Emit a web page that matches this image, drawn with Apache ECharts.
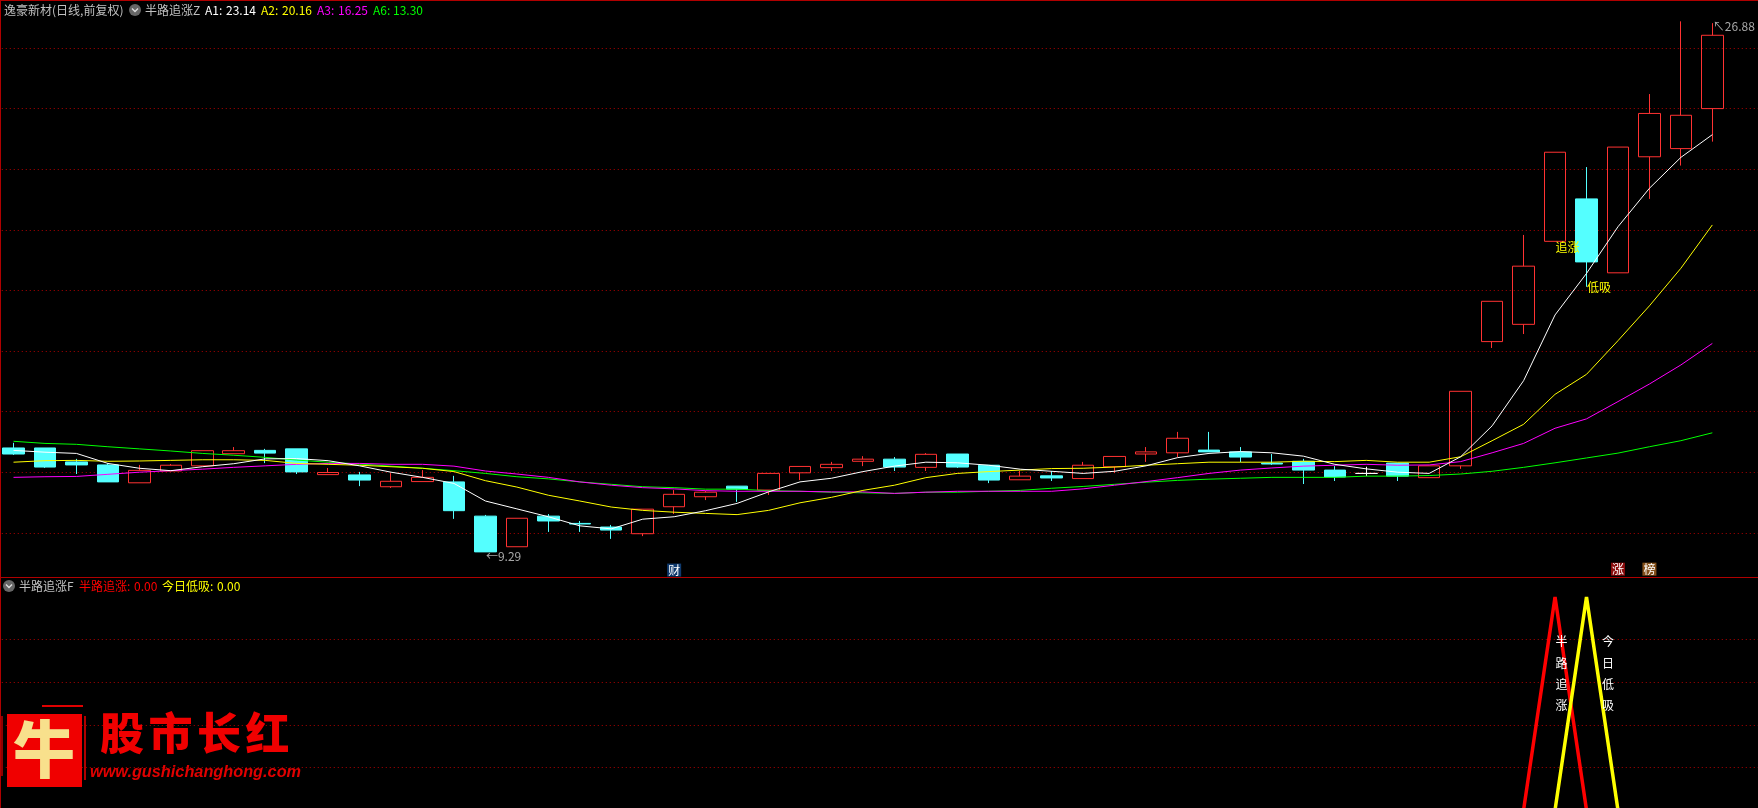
<!DOCTYPE html>
<html>
<head>
<meta charset="utf-8">
<style>html,body{margin:0;padding:0;background:#000}#c{width:1758px;height:808px}</style>
<script src="https://cdn.jsdelivr.net/npm/echarts@6/dist/echarts.min.js"></script>
</head>
<body>
<div id="c"></div>
<script>
// [open, close, low, high]
const candles = [
[12.80,12.60,12.57,12.97],[12.80,12.17,12.14,12.80],[12.34,12.24,11.94,12.44],[12.24,11.68,11.68,12.30],[11.65,12.06,11.65,12.24],
[12.04,12.23,12.04,12.27],[12.21,12.71,12.21,12.71],[12.61,12.71,12.61,12.83],[12.72,12.63,12.30,12.77],[12.77,12.01,11.94,12.77],
[11.92,11.99,11.92,12.14],[11.91,11.74,11.54,12.01],[11.52,11.70,11.48,11.97],[11.69,11.83,11.69,12.07],[11.68,10.73,10.46,11.88],
[10.55,9.37,9.37,10.59],[9.54,10.48,9.54,10.48],[10.55,10.39,10.03,10.62],[10.31,10.29,10.03,10.39],[10.19,10.09,9.80,10.26],
[9.97,10.78,9.89,10.78],[10.86,11.27,10.62,11.41],[11.19,11.34,11.08,11.39],[11.54,11.44,11.02,11.54],[11.41,11.96,11.25,11.96],
[11.98,12.19,11.74,12.19],[12.15,12.26,12.04,12.34],[12.36,12.43,12.20,12.53],[12.43,12.17,12.04,12.50],[12.16,12.59,12.04,12.63],
[12.60,12.17,12.14,12.60],[12.23,11.74,11.64,12.23],[11.75,11.87,11.75,12.04],[11.88,11.81,11.71,12.04],[11.79,12.23,11.79,12.34],
[12.18,12.52,11.97,12.52],[12.60,12.67,12.34,12.83],[12.64,13.12,12.50,13.33],[12.73,12.67,12.67,13.33],[12.67,12.50,12.33,12.83],
[12.30,12.27,12.24,12.60],[12.36,12.07,11.61,12.44],[12.07,11.84,11.71,12.20],[11.96,11.96,11.87,12.18],[12.30,11.87,11.71,12.30],
[11.82,12.21,11.82,12.21],[12.21,14.67,12.11,14.67],[16.31,17.64,16.10,17.64],[16.88,18.80,16.56,19.83],[19.62,22.56,19.62,22.56],
[21.02,18.94,18.12,22.07],[18.58,22.73,18.58,22.73],[22.41,23.84,21.02,24.48],[22.68,23.78,22.12,26.88],[24.00,26.42,22.91,26.82]
];
const a1 = [12.72,12.66,12.62,12.29,12.13,12.05,12.18,12.28,12.44,12.45,12.38,12.21,12.00,11.83,11.63,11.05,10.79,10.53,10.23,10.13,10.45,10.53,10.73,10.97,11.35,11.68,11.80,12.02,12.20,12.33,12.31,12.23,12.10,12.03,11.96,12.03,12.21,12.48,12.62,12.68,12.64,12.53,12.26,12.11,12.00,11.96,12.51,13.53,15.02,17.19,18.56,20.10,21.37,22.39,23.14];
const a2 = [12.33,12.38,12.39,12.36,12.37,12.39,12.41,12.41,12.39,12.29,12.26,12.23,12.18,12.13,12.02,11.72,11.51,11.24,11.05,10.85,10.74,10.68,10.64,10.60,10.74,10.99,11.17,11.40,11.57,11.82,11.96,12.02,12.07,12.12,12.13,12.17,12.23,12.28,12.33,12.33,12.33,12.36,12.35,12.39,12.33,12.33,12.51,13.04,13.58,14.57,15.23,16.34,17.49,18.73,20.16];
const a3 = [11.83,11.85,11.86,11.93,12.00,12.05,12.10,12.16,12.21,12.26,12.29,12.29,12.26,12.26,12.20,12.04,11.94,11.83,11.68,11.57,11.49,11.45,11.39,11.37,11.37,11.37,11.35,11.35,11.30,11.34,11.37,11.37,11.37,11.37,11.45,11.57,11.69,11.82,11.96,12.07,12.14,12.20,12.23,12.26,12.23,12.24,12.35,12.64,12.95,13.45,13.76,14.33,14.91,15.54,16.25];
const a6 = [13.02,12.95,12.92,12.84,12.77,12.70,12.62,12.56,12.49,12.40,12.33,12.27,12.20,12.13,12.05,11.96,11.85,11.78,11.68,11.60,11.52,11.49,11.44,11.44,11.39,11.37,11.34,11.32,11.30,11.34,11.34,11.37,11.40,11.47,11.53,11.60,11.67,11.73,11.77,11.80,11.83,11.83,11.83,11.87,11.87,11.89,11.94,12.03,12.16,12.31,12.47,12.63,12.84,13.04,13.30];
const chase = [0,0,0,0,0,0,0,0,0,0,0,0,0,0,0,0,0,0,0,0,0,0,0,0,0,0,0,0,0,0,0,0,0,0,0,0,0,0,0,0,0,0,0,0,0,0,0,0,0,1,0,0,0,0,0];
const dip   = [0,0,0,0,0,0,0,0,0,0,0,0,0,0,0,0,0,0,0,0,0,0,0,0,0,0,0,0,0,0,0,0,0,0,0,0,0,0,0,0,0,0,0,0,0,0,0,0,0,0,1,0,0,0,0];
const categories = candles.map((_, i) => String(i + 1)).concat(['']);

const CJK = '"Noto Sans CJK SC","Noto Sans",sans-serif';
const GRID_RED = '#b00000';
const BAND = 31.46, LEFT = -2.23;
const W = BAND * categories.length;

function anno(coord, text, color, extra) {
  return Object.assign({
    coord, symbol: 'circle', symbolSize: 1, itemStyle: { color: 'rgba(0,0,0,0)' },
    label: Object.assign({ show: true, formatter: text, color, fontFamily: CJK, fontSize: 12, position: 'right', distance: 0 }, extra || {})
  });
}
function badge(idx, val, text, bg) {
  return anno([idx, val], text, '#fff', {
    position: 'inside', backgroundColor: bg, padding: [1, 1, 0, 1], lineHeight: 12, fontSize: 12
  });
}

const topAnnotations = [
  anno([49, 19.43], '追涨', '#ffff00'),
  anno([50, 18.10], '低吸', '#ffff00'),
  anno([15, 9.29], '←9.29', '#a8a8a8', { offset: [0, 2] }),
  anno([54, 26.88], '↖26.88', '#a8a8a8', { offset: [0, 5] }),
  badge(21, 8.77, '财', '#0f3a6e'),
  badge(51, 8.80, '涨', '#8a0c0c'),
  badge(52, 8.80, '榜', '#84501a')
];
const lowAnnotations = [
  anno([49, 0.64], '半\n路\n追\n涨', '#fff', { lineHeight: 21.3 }),
  anno([50, 0.64], '今\n日\n低\n吸', '#fff', { lineHeight: 21.3, offset: [15, 0] })
];

function ma(name, data, color) {
  return { name, type: 'line', data, xAxisIndex: 0, yAxisIndex: 0, symbol: 'none', showSymbol: false, silent: true,
    lineStyle: { color, width: 1 }, z: 5 };
}

const headerTop = [
  [4, '逸豪新材(日线,前复权)', '#c0c0c0'],
  [145, '半路追涨Z', '#c0c0c0'],
  [205, 'A1:', '#ffffff'], [226, '23.14', '#ffffff'],
  [261, 'A2:', '#ffff00'], [282, '20.16', '#ffff00'],
  [317, 'A3:', '#ff00ff'], [338, '16.25', '#ff00ff'],
  [373, 'A6:', '#00ff00'], [393, '13.30', '#00ff00']
];
const headerLow = [
  [19, '半路追涨F', '#c0c0c0'],
  [79, '半路追涨:', '#ff0000'], [134, '0.00', '#ff0000'],
  [162, '今日低吸:', '#ffff00'], [217, '0.00', '#ffff00']
];

function headerText(list, y) {
  return list.map(([x, text, fill]) => ({
    type: 'text', x, y, z: 50, silent: true,
    style: { text, fill, font: '12px ' + CJK, textAlign: 'left', textVerticalAlign: 'middle' }
  }));
}
function icon(cx, cy) {
  return [
    { type: 'circle', z: 50, silent: true, shape: { cx, cy, r: 6 }, style: { fill: '#666' } },
    { type: 'polyline', z: 51, silent: true, shape: { points: [[cx - 3, cy - 1.5], [cx, cy + 1.5], [cx + 3, cy - 1.5]] },
      style: { stroke: '#ddd', lineWidth: 1.4, fill: null } }
  ];
}
function bar(x, y, width, height, fill) {
  return { type: 'rect', z: 40, silent: true, shape: { x, y, width, height }, style: { fill } };
}

const logo = [
  bar(7, 714, 75, 73, '#f00000'),
  bar(42, 705, 41, 2, '#e00000'),
  bar(84, 716, 2, 64, '#b00000'),
  bar(1, 716, 2, 60, '#900000'),
  { type: 'text', x: 44, y: 749, z: 45, silent: true,
    style: { text: '牛', fill: '#f8e08c', font: '900 62px ' + CJK, textAlign: 'center', textVerticalAlign: 'middle' } },
  ...['股', '市', '长', '红'].map((ch, i) => ({
    type: 'text', x: 122 + i * 48.5, y: 733, z: 45, silent: true,
    style: { text: ch, fill: '#f00000', font: '900 44px ' + CJK, textAlign: 'center', textVerticalAlign: 'middle' }
  })),
  { type: 'text', x: 90, y: 773, z: 45, silent: true,
    style: { text: 'www.gushichanghong.com', fill: '#e00000', font: 'italic bold 16.3px "Liberation Sans",sans-serif', textAlign: 'left', textVerticalAlign: 'middle' } }
];

const option = {
  backgroundColor: '#000',
  animation: false,
  grid: [
    { left: LEFT, width: W, top: -12.6, height: 606, outerBoundsMode: 'none', containLabel: false },
    { left: LEFT, width: W, top: 597, height: 213, outerBoundsMode: 'none', containLabel: false }
  ],
  xAxis: [0, 1].map(gridIndex => ({
    type: 'category', gridIndex, data: categories, boundaryGap: true,
    axisLine: { show: false }, axisTick: { show: false }, axisLabel: { show: false }, splitLine: { show: false }
  })),
  yAxis: [
    { type: 'value', gridIndex: 0, min: 8, max: 28, interval: 2 },
    { type: 'value', gridIndex: 1, min: 0, max: 1, interval: 0.2 }
  ].map(a => Object.assign(a, {
    axisLine: { show: false }, axisTick: { show: false }, axisLabel: { show: false },
    splitLine: { show: true, showMinLine: false, showMaxLine: false, lineStyle: { color: GRID_RED, width: 1, type: [1, 3] } }
  })),
  series: [
    { name: 'K', type: 'candlestick', data: candles, xAxisIndex: 0, yAxisIndex: 0, barWidth: 22, silent: true, z: 3,
      itemStyle: { color: 'rgba(0,0,0,0)', color0: '#54ffff', borderColor: '#ff3232', borderColor0: '#54ffff', borderColorDoji: '#ffffff', borderWidth: 1 } },
    ma('A6', a6, '#00ff00'),
    ma('A3', a3, '#ff00ff'),
    ma('A2', a2, '#ffff00'),
    ma('A1', a1, '#ffffff'),
    { name: '半路追涨', type: 'line', data: chase, xAxisIndex: 1, yAxisIndex: 1, symbol: 'none', showSymbol: false, silent: true,
      lineStyle: { color: '#ff0000', width: 3.5 }, z: 4, markPoint: { data: lowAnnotations, silent: true, z: 9 } },
    { name: '今日低吸', type: 'line', data: dip, xAxisIndex: 1, yAxisIndex: 1, symbol: 'none', showSymbol: false, silent: true,
      lineStyle: { color: '#ffff00', width: 3.5 }, z: 5 },
    { name: 'marks', type: 'line', data: [], xAxisIndex: 0, yAxisIndex: 0, symbol: 'none', silent: true, z: 8,
      markPoint: { data: topAnnotations, silent: true, z: 9 } }
  ],
  graphic: { elements: [
    bar(0, 0, 1758, 1, '#b00000'),
    bar(0, 0, 1, 808, '#b00000'),
    bar(0, 577, 1758, 1, '#b00000'),
    ...icon(135, 10),
    ...headerText(headerTop, 10),
    ...icon(9, 586),
    ...headerText(headerLow, 586),
    ...logo
  ] }
};
const chart = echarts.init(document.getElementById('c'), null, { renderer: 'canvas', width: 1758, height: 808 });
chart.setOption(option);
</script>
</body>
</html>
